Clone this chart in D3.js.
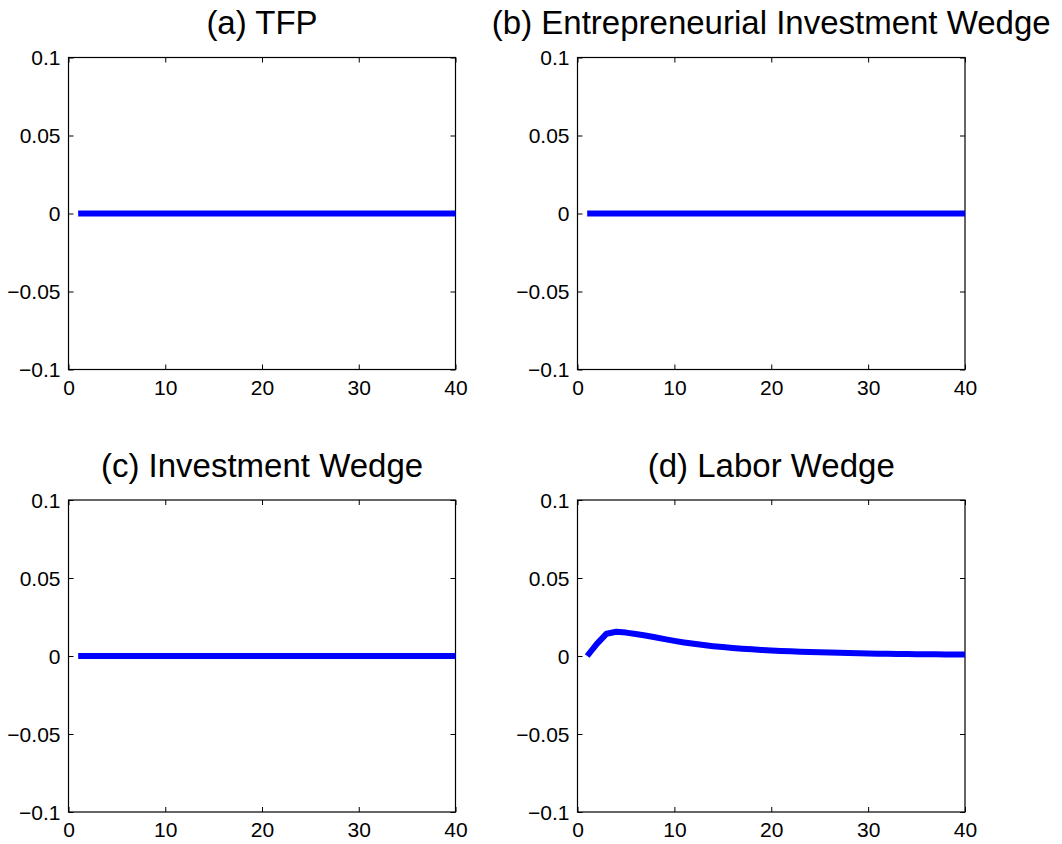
<!DOCTYPE html>
<html>
<head>
<meta charset="utf-8">
<script src="https://cdn.jsdelivr.net/npm/d3@7"></script>
<style>
  html, body { margin: 0; padding: 0; background: #fff; }
  svg { display: block; }
  text { font-family: "Liberation Sans", Arial, Helvetica, sans-serif; fill: #000; }
</style>
</head>
<body>
<svg id="chart" width="1062" height="844"></svg>
<script>
// ---- data ----
const periods = d3.range(1, 41);
const titles = ["(a) TFP", "(b) Entrepreneurial Investment Wedge", "(c) Investment Wedge", "(d) Labor Wedge"];
const tfp = periods.map(() => 0);
const entInvWedge = periods.map(() => 0);
const invWedge = periods.map(() => 0);
const laborWedge = [0, 0.0078, 0.0143, 0.0155, 0.0150, 0.0141, 0.0131, 0.0120, 0.0108, 0.0097,
                    0.0087, 0.0078, 0.0070, 0.0063, 0.0057, 0.0052, 0.0047, 0.0043, 0.0039, 0.0035,
                    0.0032, 0.0030, 0.0028, 0.0026, 0.0024, 0.0022, 0.0021, 0.0019, 0.0018, 0.0016,
                    0.0015, 0.0014, 0.0013, 0.0013, 0.0012, 0.0011, 0.0011, 0.0010, 0.0010, 0.0009];
const seriesList = [tfp, entInvWedge, invWedge, laborWedge];
const xTicks = [0, 10, 20, 30, 40];
const yTicks = [-0.1, -0.05, 0, 0.05, 0.1];
const yTickLabels = ["\u22120.1", "\u22120.05", "0", "0.05", "0.1"];

// ---- layout ----
const svg = d3.select("#chart");
const panels = [
  {x0: 68.5, x1: 455.5, y0: 57.5, y1: 369.5},
  {x0: 577.5, x1: 965, y0: 57.5, y1: 369.5},
  {x0: 68.5, x1: 455.5, y0: 500, y1: 812},
  {x0: 577.5, x1: 965, y0: 500, y1: 812}
];
const tickLen = 5;

panels.forEach((p, i) => {
  const x = d3.scaleLinear().domain([0, 40]).range([p.x0, p.x1]);
  const y = d3.scaleLinear().domain([-0.1, 0.1]).range([p.y1, p.y0]);
  const g = svg.append("g");

  // box
  g.append("rect")
    .attr("x", p.x0).attr("y", p.y0)
    .attr("width", p.x1 - p.x0).attr("height", p.y1 - p.y0)
    .attr("fill", "none").attr("stroke", "#000").attr("stroke-width", 1.2);

  // axes via d3 axis generators (inward ticks)
  const fmtY = d => yTickLabels[yTicks.indexOf(d)];
  const left = g.append("g").attr("transform", `translate(${p.x0},0)`)
    .call(d3.axisLeft(y).tickValues(yTicks).tickFormat(fmtY).tickSizeInner(-tickLen).tickSizeOuter(0).tickPadding(8));
  const right = g.append("g").attr("transform", `translate(${p.x1},0)`)
    .call(d3.axisRight(y).tickValues(yTicks).tickFormat("").tickSizeInner(-tickLen).tickSizeOuter(0));
  const bottom = g.append("g").attr("transform", `translate(0,${p.y1})`)
    .call(d3.axisBottom(x).tickValues(xTicks).tickFormat(d3.format("d")).tickSizeInner(-tickLen).tickSizeOuter(0).tickPadding(10));
  const top = g.append("g").attr("transform", `translate(0,${p.y0})`)
    .call(d3.axisTop(x).tickValues(xTicks).tickFormat("").tickSizeInner(-tickLen).tickSizeOuter(0));
  [left, right, bottom, top].forEach(a => {
    a.select(".domain").remove();
    a.selectAll("line").attr("stroke", "#000").attr("stroke-width", 1);
    a.selectAll("text").attr("font-size", 21).attr("font-family", "Liberation Sans, Arial, sans-serif").attr("fill", "#000");
  });
  left.selectAll("text").attr("dy", "0.35em");
  bottom.selectAll("text").attr("dy", "0.72em");

  // title
  g.append("text")
    .attr("x", (p.x0 + p.x1) / 2)
    .attr("y", p.y0 - 23.5)
    .attr("text-anchor", "middle")
    .attr("font-size", 33)
    .text(titles[i]);

  // series line
  const line = d3.line().x((d, k) => x(periods[k])).y(d => y(d));
  g.append("path")
    .datum(seriesList[i])
    .attr("d", line)
    .attr("fill", "none")
    .attr("stroke", "#0000ff")
    .attr("stroke-width", 6)
    .attr("stroke-linejoin", "round");
});
</script>
</body>
</html>
